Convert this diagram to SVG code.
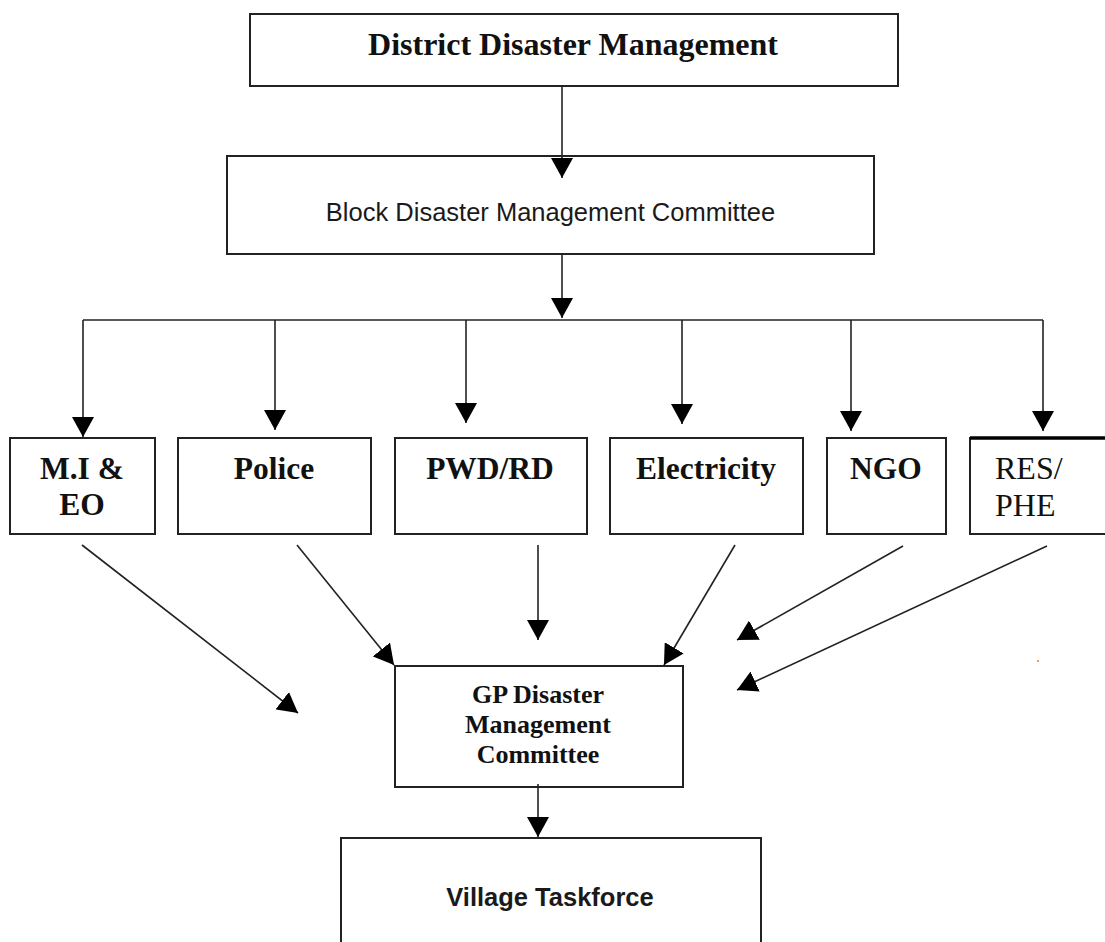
<svg xmlns="http://www.w3.org/2000/svg" width="1105" height="942" viewBox="0 0 1105 942">
  <style>
    .box { fill: #ffffff; stroke: #222222; stroke-width: 2; }
    .conn { fill: none; stroke: #222222; stroke-width: 1.6; }
    .serif-b { font-family: "Liberation Serif", "Times New Roman", serif; font-weight: bold; fill: #111111; }
    .serif { font-family: "Liberation Serif", "Times New Roman", serif; fill: #111111; }
    .sans { font-family: "Liberation Sans", Arial, sans-serif; fill: #1a1a1a; }
  </style>
  <defs>
    <marker id="arrow" markerUnits="userSpaceOnUse" markerWidth="22" markerHeight="22" refX="20" refY="11" orient="auto">
      <path d="M0,0 L20,11 L0,22 z" fill="#000000"/>
    </marker>
  </defs>
  <rect width="1105" height="942" fill="#ffffff"/>

  <g id="district">
    <rect class="box" x="250" y="14" width="648" height="72"/>
    <text class="serif-b" x="573" y="55" font-size="32" text-anchor="middle">District Disaster Management</text>
  </g>

  <g id="block">
    <rect class="box" x="227" y="156" width="647" height="98"/>
    <text class="sans" x="550.5" y="221" font-size="25.5" text-anchor="middle">Block Disaster Management Committee</text>
  </g>

  <g id="mi-eo">
    <rect class="box" x="10" y="438" width="145" height="96"/>
    <text class="serif-b" font-size="31.5" text-anchor="middle"><tspan x="82" y="479">M.I &amp;</tspan><tspan x="82" y="515">EO</tspan></text>
  </g>

  <g id="police">
    <rect class="box" x="178" y="438" width="193" height="96"/>
    <text class="serif-b" x="274" y="479" font-size="31.5" text-anchor="middle">Police</text>
  </g>

  <g id="pwd-rd">
    <rect class="box" x="395" y="438" width="192" height="96"/>
    <text class="serif-b" x="490" y="479" font-size="31.5" text-anchor="middle">PWD/RD</text>
  </g>

  <g id="electricity">
    <rect class="box" x="610" y="438" width="193" height="96"/>
    <text class="serif-b" x="706" y="479" font-size="31.5" text-anchor="middle">Electricity</text>
  </g>

  <g id="ngo">
    <rect class="box" x="827" y="438" width="119" height="96"/>
    <text class="serif-b" x="886" y="479" font-size="31.5" text-anchor="middle">NGO</text>
  </g>

  <g id="res-phe">
    <rect class="box" x="970" y="438" width="150" height="96"/>
    <line x1="970" y1="438" x2="1105" y2="438" stroke="#000000" stroke-width="3.5"/>
    <text class="serif" font-size="32"><tspan x="995" y="479">RES/</tspan><tspan x="995" y="516">PHE</tspan></text>
  </g>

  <g id="gp-committee">
    <rect class="box" x="395" y="666" width="288" height="121"/>
    <text class="serif-b" font-size="26" text-anchor="middle"><tspan x="538" y="703">GP Disaster</tspan><tspan x="538" y="733">Management</tspan><tspan x="538" y="763">Committee</tspan></text>
  </g>

  <g id="village-taskforce">
    <rect class="box" x="341" y="838" width="420" height="120"/>
    <text class="sans" x="550" y="906" font-size="25.5" font-weight="bold" text-anchor="middle">Village Taskforce</text>
  </g>

  <!-- connectors, drawn over the boxes so heads that reach inside stay visible -->
  <g id="connectors" class="conn">
    <line x1="562" y1="86" x2="562" y2="178" marker-end="url(#arrow)"/>
    <line x1="562" y1="254" x2="562" y2="318" marker-end="url(#arrow)"/>
    <line x1="83" y1="320" x2="1043" y2="320"/>
    <line x1="83" y1="320" x2="83" y2="437" marker-end="url(#arrow)"/>
    <line x1="275" y1="320" x2="275" y2="430" marker-end="url(#arrow)"/>
    <line x1="466" y1="320" x2="466" y2="423" marker-end="url(#arrow)"/>
    <line x1="682" y1="320" x2="682" y2="424" marker-end="url(#arrow)"/>
    <line x1="851" y1="320" x2="851" y2="431" marker-end="url(#arrow)"/>
    <line x1="1043" y1="320" x2="1043" y2="431" marker-end="url(#arrow)"/>
    <line x1="82" y1="545" x2="298" y2="713" marker-end="url(#arrow)"/>
    <line x1="297" y1="545" x2="394" y2="665" marker-end="url(#arrow)"/>
    <line x1="538" y1="545" x2="538" y2="640" marker-end="url(#arrow)"/>
    <line x1="735" y1="545" x2="664" y2="665" marker-end="url(#arrow)"/>
    <line x1="903" y1="546" x2="737" y2="640" marker-end="url(#arrow)"/>
    <line x1="1047" y1="546" x2="737" y2="690" marker-end="url(#arrow)"/>
    <line x1="538" y1="784" x2="538" y2="837" marker-end="url(#arrow)"/>
  </g>

  <!-- stray speck of colour on the right margin -->
  <rect x="1037" y="660" width="2" height="2" fill="#f0a050"/>
</svg>
